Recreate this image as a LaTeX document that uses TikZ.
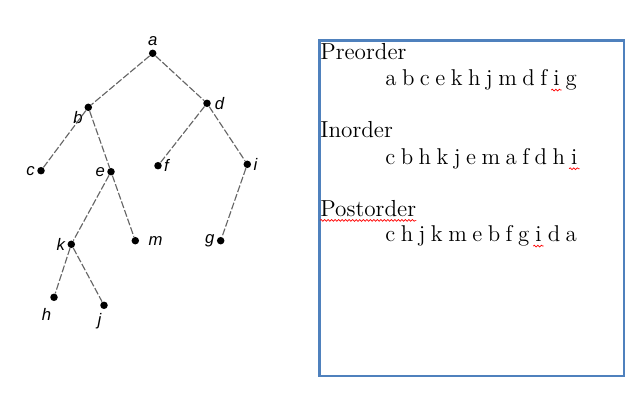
\documentclass[tikz,border=0pt]{standalone}
\usepackage{fontspec}
\usetikzlibrary{decorations.pathmorphing}
\newfontfamily\lblfont{Liberation Sans}
\definecolor{boxblue}{HTML}{4F81BD}
\newcommand\seqfont{\fontsize{13}{15}\selectfont\spaceskip=0.24em\relax}
\begin{document}
\begin{tikzpicture}[x=0.02cm,y=-0.02cm,
  dot/.style={circle,fill=black,inner sep=0pt,minimum size=7.5*0.02cm},
  lbl/.style={font=\lblfont\itshape\fontsize{9.5}{11}\selectfont,inner sep=1pt},
  edge/.style={draw=black!60,dashed,dash pattern=on 4pt off 1.2pt,line width=0.65pt},
  head/.style={font=\fontsize{13.2}{15}\selectfont,anchor=base west,inner sep=0pt},
  seq/.style={font=\seqfont,anchor=base west,inner sep=0pt},
  squig/.style={red,line width=0.4pt,decorate,decoration={snake,amplitude=0.5pt,segment length=2pt}}]
\useasboundingbox (0,0) rectangle (643,402);

% tree
\node[dot,label={[lbl,label distance=1pt]above:a}] (a) at (152.7,53.3) {};
\node[dot,label={[lbl]210:b}] (b) at (88.3,107.3) {};
\node[dot,label={[lbl,label distance=1pt]right:d}] (d) at (207,103.3) {};
\node[dot,label={[lbl]left:c}] (c) at (41,170.7) {};
\node[dot,label={[lbl]left:e}] (e) at (111,171.7) {};
\node[dot,label={[lbl]right:f}] (f) at (158,165.7) {};
\node[dot,label={[lbl]right:i}] (i) at (247.3,164.3) {};
\node[dot,label={[lbl]left:k}] (k) at (71.3,244.3) {};
\node[dot,label={[lbl,label distance=4pt]right:m}] (m) at (135.3,240.7) {};
\node[dot,label={[lbl]left:g}] (g) at (220.7,240.7) {};
\node[dot,label={[lbl,label distance=3pt]265:h}] (h) at (54,297.3) {};
\node[dot,label={[lbl,label distance=1pt]265:j}] (j) at (104,305.3) {};

\draw[edge] (a) -- (b);
\draw[edge] (a) -- (d);
\draw[edge] (b) -- (c);
\draw[edge] (b) -- (e);
\draw[edge] (e) -- (k);
\draw[edge] (e) -- (m);
\draw[edge] (k) -- (h);
\draw[edge] (k) -- (j);
\draw[edge] (d) -- (f);
\draw[edge] (d) -- (i);
\draw[edge] (i) -- (g);

% traversals
\draw[boxblue,line width=1.3pt] (319.5,40.5) rectangle (624,376);
\node[head] (pre) at (320,60) {Preorder};
\node[seq] (pre1) at (385,85.7) {a b c e k h j m d f\ \null};
\node[seq] (pre2) at (pre1.base east) {i};
\node[seq] (pre3) at (pre2.base east) {\null\ g};
\draw[squig] ([shift={(-1pt,-2.5pt)}]pre2.base west) -- ([shift={(1pt,-2.5pt)}]pre2.base east);

\node[head] (in) at (320,138) {Inorder};
\node[seq] (in1) at (385,164.3) {c b h k j e m a f d h\ \null};
\node[seq] (in2) at (in1.base east) {i};
\draw[squig] ([shift={(-1pt,-2.5pt)}]in2.base west) -- ([shift={(1pt,-2.5pt)}]in2.base east);

\node[head] (post) at (320,216) {Postorder};
\draw[squig] ([yshift=-2.5pt]post.base west) -- ([yshift=-2.5pt]post.base east);
\node[seq] (post1) at (385,241.7) {c h j k m e b f g\ \null};
\node[seq] (post2) at (post1.base east) {i};
\node[seq] (post3) at (post2.base east) {\null\ d a};
\draw[squig] ([shift={(-1pt,-2.5pt)}]post2.base west) -- ([shift={(1pt,-2.5pt)}]post2.base east);
\end{tikzpicture}
\end{document}
